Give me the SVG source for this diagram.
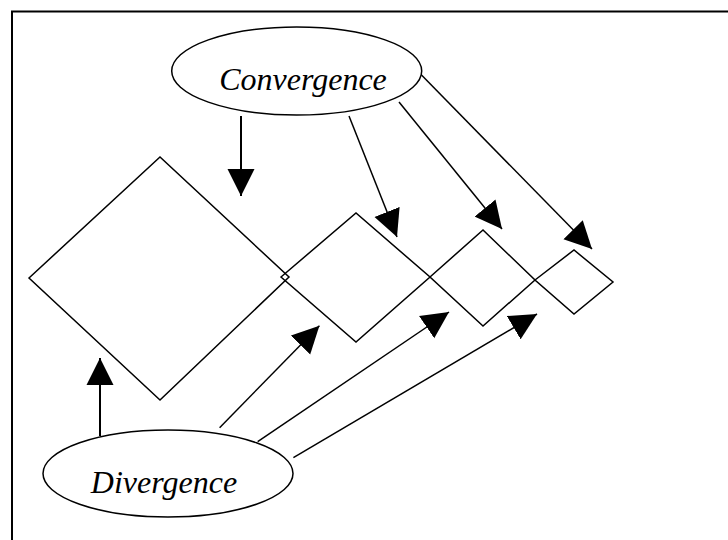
<svg xmlns="http://www.w3.org/2000/svg" width="728" height="540" viewBox="0 0 728 540">
<style>
.frame{fill:none;stroke:#000;stroke-width:2}
.node{fill:#fff;stroke:#000;stroke-width:1.5}
.dia{fill:none;stroke:#000;stroke-width:1.5}
.lbl{font-family:"Liberation Serif","Times New Roman",serif;font-style:italic;font-size:32px;fill:#000;text-anchor:middle}
.con{fill:none;stroke:#000;stroke-width:1.5}
.con.v{stroke-width:2}
</style>
<defs>
<marker id="ah" markerUnits="userSpaceOnUse" markerWidth="28" markerHeight="28" refX="27" refY="13.5" orient="auto" viewBox="0 0 28 27">
<path d="M0,0 L27,13.5 L0,27 z" fill="#000"/>
</marker>
</defs>
<rect width="728" height="540" fill="#fff"/>
<path class="frame" d="M12,541 V11.5 H729"/>
<g id="diamond1"><polygon class="dia" points="29,278 160,157 289,277 160,400"/></g>
<g id="diamond2"><polygon class="dia" points="281,277 356,213 430,277 356,342"/></g>
<g id="diamond3"><polygon class="dia" points="430,277 483,230 535,280 483,326"/></g>
<g id="diamond4"><polygon class="dia" points="535,280 574,250 613,282 574,314"/></g>
<g id="convergence">
<ellipse class="node" cx="296.7" cy="71" rx="125" ry="44"/>
<text class="lbl" x="303" y="90">Convergence</text>
</g>
<g id="divergence">
<ellipse class="node" cx="168" cy="473.5" rx="125" ry="43.5"/>
<text class="lbl" x="164" y="493">Divergence</text>
</g>
<g id="connectors">
<line class="con v" x1="241" y1="116" x2="241" y2="196" marker-end="url(#ah)"/>
<line class="con" x1="349" y1="116" x2="397" y2="237" marker-end="url(#ah)"/>
<line class="con" x1="399" y1="102" x2="502" y2="229" marker-end="url(#ah)"/>
<line class="con" x1="421.5" y1="75" x2="592" y2="249" marker-end="url(#ah)"/>
<line class="con v" x1="100" y1="436" x2="100" y2="358" marker-end="url(#ah)"/>
<line class="con" x1="219.6" y1="427.7" x2="319.4" y2="325.7" marker-end="url(#ah)"/>
<line class="con" x1="257.7" y1="441.7" x2="449" y2="312" marker-end="url(#ah)"/>
<line class="con" x1="293.4" y1="457.7" x2="537" y2="314" marker-end="url(#ah)"/>
</g>
</svg>
